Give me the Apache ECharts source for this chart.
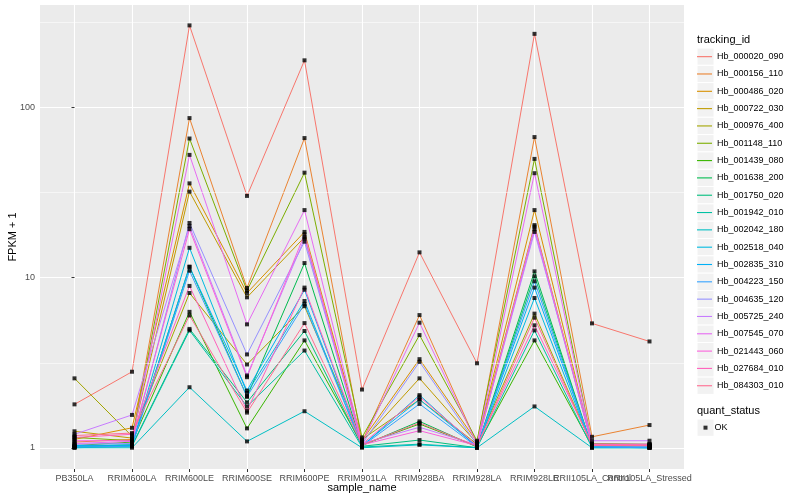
<!DOCTYPE html>
<html>
<head>
<meta charset="utf-8">
<script src="https://cdn.jsdelivr.net/npm/echarts@6/dist/echarts.min.js"></script>
<style>html,body{margin:0;padding:0;background:#fff}#c{width:800px;height:500px}</style>
</head>
<body>
<div id="c"></div>
<script>
const categories = ["PB350LA","RRIM600LA","RRIM600LE","RRIM600SE","RRIM600PE","RRIM901LA","RRIM928BA","RRIM928LA","RRIM928LE","RRII105LA_Control","RRII105LA_Stressed"];
const trackingIds = ["Hb_000020_090","Hb_000156_110","Hb_000486_020","Hb_000722_030","Hb_000976_400","Hb_001148_110","Hb_001439_080","Hb_001638_200","Hb_001750_020","Hb_001942_010","Hb_002042_180","Hb_002518_040","Hb_002835_310","Hb_004223_150","Hb_004635_120","Hb_005725_240","Hb_007545_070","Hb_021443_060","Hb_027684_010","Hb_084303_010"];
const colors = ["#F8766D","#EA8331","#D89000","#C09B00","#A3A500","#7CAE00","#39B600","#00BB4E","#00BF7D","#00C1A3","#00BFC4","#00BAE0","#00B0F6","#35A2FF","#9590FF","#C77CFF","#E76BF3","#FA62DB","#FF62BC","#FF6C91"];

const hb_000020_090 = [1.8, 2.8, 305, 30.3, 190, 2.2, 14.1, 3.14, 272, 5.39, 4.22];
const hb_000156_110 = [1.08, 1.12, 86.9, 8.71, 66.3, 1.08, 6.03, 1.06, 67.2, 1.16, 1.36];
const hb_000486_020 = [1.12, 1.31, 35.9, 8.13, 18.6, 1.1, 3.32, 1.08, 25.0, 1.05, 1.04];
const hb_000722_030 = [1.25, 1.14, 32.1, 7.67, 17.3, 1.09, 2.56, 1.06, 20.4, 1.04, 1.03];
const hb_000976_400 = [2.56, 1.17, 8.13, 3.09, 6.8, 1.12, 1.92, 1.05, 6.15, 1.03, 1.02];
const hb_001148_110 = [1.15, 1.1, 65.9, 8.4, 41.5, 1.15, 4.6, 1.1, 50.0, 1.06, 1.05];
const hb_001439_080 = [1.03, 1.08, 6.3, 1.3, 4.28, 1.04, 1.38, 1.02, 4.28, 1.02, 1.02];
const hb_001638_200 = [1.02, 1.04, 11.6, 2.0, 12.2, 1.03, 1.43, 1.01, 10.9, 1.01, 1.01];
const hb_001750_020 = [1.01, 1.03, 5.0, 1.85, 4.86, 1.02, 1.11, 1.0, 10.2, 1.01, 1.01];
const hb_001942_010 = [1.0, 1.02, 4.9, 1.75, 3.73, 1.01, 1.05, 1.0, 4.9, 1.0, 1.0];
const hb_002042_180 = [1.0, 1.0, 2.27, 1.09, 1.64, 1.0, 1.04, 1.0, 1.75, 1.0, 1.0];
const hb_002518_040 = [1.02, 1.03, 15.0, 2.1, 7.3, 1.02, 2.04, 1.01, 7.6, 1.01, 1.0];
const hb_002835_310 = [1.03, 1.04, 11.6, 2.17, 8.5, 1.03, 1.92, 1.02, 8.75, 1.02, 1.01];
const hb_004223_150 = [1.01, 1.02, 11.0, 2.0, 7.0, 1.02, 1.81, 1.01, 9.53, 1.01, 1.0];
const hb_004635_120 = [1.05, 1.06, 21.0, 3.54, 16.3, 1.05, 3.2, 1.04, 19.3, 1.03, 1.02];
const hb_005725_240 = [1.2, 1.56, 20.1, 2.66, 17.0, 1.06, 1.32, 1.04, 18.6, 1.1, 1.1];
const hb_007545_070 = [1.06, 1.09, 52.8, 5.32, 25.0, 1.06, 5.44, 1.05, 41.2, 1.05, 1.05];
const hb_021443_060 = [1.1, 1.1, 19.3, 2.6, 18.0, 1.04, 1.26, 1.03, 20.0, 1.04, 1.03];
const hb_027684_010 = [1.15, 1.2, 8.95, 1.65, 8.75, 1.05, 2.0, 1.03, 5.25, 1.05, 1.04];
const hb_084303_010 = [1.18, 1.22, 6.0, 1.61, 5.41, 1.04, 1.4, 1.02, 5.82, 1.03, 1.03];

const seriesValues = [hb_000020_090, hb_000156_110, hb_000486_020, hb_000722_030, hb_000976_400, hb_001148_110, hb_001439_080, hb_001638_200, hb_001750_020, hb_001942_010, hb_002042_180, hb_002518_040, hb_002835_310, hb_004223_150, hb_004635_120, hb_005725_240, hb_007545_070, hb_021443_060, hb_027684_010, hb_084303_010];

const yTicks = [1, 10, 100];
const yMinorBreaks = [3.1623, 31.623, 316.23];
const xTickIdx = categories.map((c, i) => i);
// labels split over two axes so overlapping neighbours are both drawn
const xLabelsA = xTickIdx.filter(i => i % 2 === 0);
const xLabelsB = xTickIdx.filter(i => i % 2 === 1);

const FONT = "'Liberation Sans', Arial, Helvetica, sans-serif";

const chart = echarts.init(document.getElementById('c'), null, {renderer: 'canvas'});

const lineSeries = trackingIds.map((name, k) => ({
  name: name,
  type: 'line',
  xAxisIndex: 0,
  data: seriesValues[k].map((v, i) => [i, v]),
  symbol: 'none',
  color: colors[k],
  lineStyle: {width: 1, color: colors[k]},
  z: 2,
  silent: true,
  animation: false
}));

const pointData = [];
seriesValues.forEach(arr => arr.forEach((v, i) => pointData.push([i, v])));

// legend geometry (styling only)
const legLeft = 697, legTop = 48, legStep = 17.32;
const graphics = [];
graphics.push({type: 'text', left: 697, top: 34, style: {text: 'tracking_id', font: '11px ' + FONT, fill: '#000'}});
for (let i = 0; i < trackingIds.length; i++) {
  graphics.push({type: 'rect', shape: {x: legLeft, y: legTop + i * legStep, width: 17, height: legStep}, style: {fill: '#F2F2F2', stroke: '#fff', lineWidth: 1}, z: 0});
}
graphics.push({type: 'text', left: 697, top: 405, style: {text: 'quant_status', font: '11px ' + FONT, fill: '#000'}});
graphics.push({type: 'rect', shape: {x: legLeft, y: 419, width: 17, height: 17.32}, style: {fill: '#F2F2F2', stroke: '#fff', lineWidth: 1}, z: 0});

function xLabelAxis(vals, withName) {
  return {
    type: 'value',
    position: 'bottom',
    min: -0.6, max: 10.6, interval: 1,
    name: withName ? 'sample_name' : '', nameLocation: 'middle', nameGap: 13, nameMoveOverlap: false,
    nameTextStyle: {fontSize: 11, color: '#000', fontFamily: FONT},
    axisLine: {show: false, onZero: false},
    axisTick: {show: withName, length: 3, lineStyle: {color: '#333333', width: 1}, customValues: xTickIdx},
    axisLabel: {
      customValues: vals,
      formatter: v => categories[Math.round(v)] || '',
      color: '#4D4D4D', fontSize: 9, margin: 5, hideOverlap: false, fontFamily: FONT,
      showMinLabel: true, showMaxLabel: true
    },
    splitLine: {show: withName, lineStyle: {color: '#FFFFFF', width: 1.1}}
  };
}

const option = {
  backgroundColor: '#ffffff',
  animation: false,
  textStyle: {fontFamily: FONT},
  grid: {left: 40, right: 116, top: 5, bottom: 31, show: true, backgroundColor: '#EBEBEB', borderWidth: 0, containLabel: false, outerBoundsMode: 'none'},
  xAxis: [xLabelAxis(xLabelsA, true), xLabelAxis(xLabelsB, false)],
  yAxis: {
    type: 'log', logBase: 10,
    min: 0.75, max: 402,
    name: 'FPKM + 1', nameLocation: 'middle', nameGap: 22, nameMoveOverlap: false,
    nameTextStyle: {fontSize: 11, color: '#000', fontFamily: FONT},
    axisLine: {show: false},
    axisTick: {show: true, length: 3, lineStyle: {color: '#333333', width: 1}, customValues: yTicks},
    axisLabel: {customValues: yTicks, color: '#4D4D4D', fontSize: 9, margin: 5, fontFamily: FONT, formatter: v => String(v), showMinLabel: true, showMaxLabel: true},
    splitLine: {show: true, lineStyle: {color: '#FFFFFF', width: 1.1}}
  },
  legend: [
    {
      data: trackingIds,
      orient: 'vertical', left: legLeft, top: legTop, padding: 0,
      itemWidth: 15, itemHeight: 17, itemGap: 0,
      icon: 'path://M0,0H15V1.1H0Z',
      textStyle: {fontSize: 9, color: '#000', fontFamily: FONT, lineHeight: legStep},
      selectedMode: false
    },
    {
      data: ['OK'],
      orient: 'vertical', left: legLeft + 6.5, top: 419, padding: 0,
      itemWidth: 4, itemHeight: 4, itemGap: 0,
      icon: 'rect',
      textStyle: {fontSize: 9, color: '#000', fontFamily: FONT, lineHeight: legStep, padding: [0, 0, 0, 2]},
      selectedMode: false
    }
  ],
  graphic: graphics,
  series: [
    {
      name: 'minor',
      type: 'line',
      data: [],
      z: 1,
      silent: true,
      markLine: {
        silent: true, symbol: 'none', label: {show: false}, animation: false,
        lineStyle: {color: '#FFFFFF', width: 0.55, type: 'solid'},
        data: yMinorBreaks.map(v => ({yAxis: v}))
      }
    },
    ...lineSeries,
    {
      name: 'OK',
      type: 'scatter',
      xAxisIndex: 0,
      data: pointData,
      symbol: 'rect',
      symbolSize: 4,
      itemStyle: {color: '#000000'},
      z: 5,
      silent: true,
      animation: false
    }
  ]
};
chart.setOption(option);
</script>
</body>
</html>
